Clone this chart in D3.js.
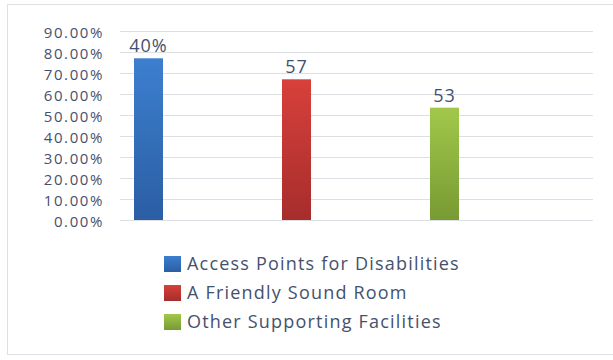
<!DOCTYPE html>
<html>
<head>
<meta charset="utf-8">
<script src="https://cdn.jsdelivr.net/npm/d3@7"></script>
<style>
  body { margin: 0; background: #fff; }
  text { font-family: "Open Sans", sans-serif; }
</style>
</head>
<body>
<div id="chart"></div>
<script>
var series = ['Access Points for Disabilities', 'A Friendly Sound Room', 'Other Supporting Facilities'];
var values = [0.77, 0.67, 0.535];
var valueLabels = ['40%', '57', '53'];
var yTicks = [0, 0.1, 0.2, 0.3, 0.4, 0.5, 0.6, 0.7, 0.8, 0.9];
var colors = [['#3c7fcf', '#2b5ea3'], ['#d8403b', '#a62d2c'], ['#a2c84a', '#789a33']];

var width = 613, height = 360;
var textColor = '#44516d';

var svg = d3.select('#chart').append('svg')
    .attr('width', width)
    .attr('height', height);

// chart frame
svg.append('rect')
    .attr('x', 7.5).attr('y', 4.5)
    .attr('width', 620).attr('height', 350)
    .style('fill', '#fff')
    .style('stroke', '#dde1e6');

var defs = svg.append('defs');
colors.forEach(function (c, i) {
    var g = defs.append('linearGradient')
        .attr('id', 'grad' + i)
        .attr('x1', 0).attr('y1', 0).attr('x2', 0).attr('y2', 1);
    g.append('stop').attr('offset', '0%').attr('stop-color', c[0]);
    g.append('stop').attr('offset', '100%').attr('stop-color', c[1]);
});

var y = d3.scaleLinear().domain([0, 0.9]).range([220, 31]);
var x = d3.scalePoint().domain(series).range([148.5, 444.5]);
var barWidth = 29;

// gridlines
svg.append('g').selectAll('line')
    .data(yTicks)
    .join('line')
    .attr('x1', 120).attr('x2', 593)
    .attr('y1', d => Math.round(y(d)) + 0.5)
    .attr('y2', d => Math.round(y(d)) + 0.5)
    .style('stroke', '#dcdfe4');

// y axis labels
var yAxis = svg.append('g')
    .attr('transform', 'translate(104,0)')
    .call(d3.axisLeft(y).tickValues(yTicks).tickFormat(d3.format('.2%')).tickSize(0).tickPadding(0));
yAxis.select('.domain').remove();
yAxis.selectAll('text')
    .attr('dy', '0.4em')
    .style('font-family', '"Open Sans", sans-serif')
    .style('font-size', '15px')
    .style('letter-spacing', '1.6px')
    .style('fill', textColor);

// bars
svg.append('g').selectAll('rect')
    .data(series)
    .join('rect')
    .attr('x', d => x(d) - barWidth / 2)
    .attr('width', barWidth)
    .attr('y', (d, i) => y(values[i]))
    .attr('height', (d, i) => y(0) - y(values[i]))
    .style('fill', (d, i) => 'url(#grad' + i + ')');

// value labels
svg.append('g').selectAll('text')
    .data(series)
    .join('text')
    .attr('x', d => x(d))
    .attr('y', (d, i) => y(values[i]) - 6)
    .attr('text-anchor', 'middle')
    .style('font-size', '18px')
    .style('letter-spacing', '1px')
    .style('fill', textColor)
    .text((d, i) => valueLabels[i]);

// legend
var legend = svg.append('g')
    .attr('transform', 'translate(164,256)');
var rows = legend.selectAll('g')
    .data(series)
    .join('g')
    .attr('transform', (d, i) => `translate(0,${i * 29})`);
rows.append('rect')
    .attr('width', 17).attr('height', 16)
    .style('fill', (d, i) => 'url(#grad' + i + ')');
rows.append('text')
    .attr('x', 23)
    .attr('y', 8)
    .attr('dy', '0.36em')
    .style('font-size', '18px')
    .style('letter-spacing', '1.2px')
    .style('fill', textColor)
    .text(d => d);
</script>
</body>
</html>
